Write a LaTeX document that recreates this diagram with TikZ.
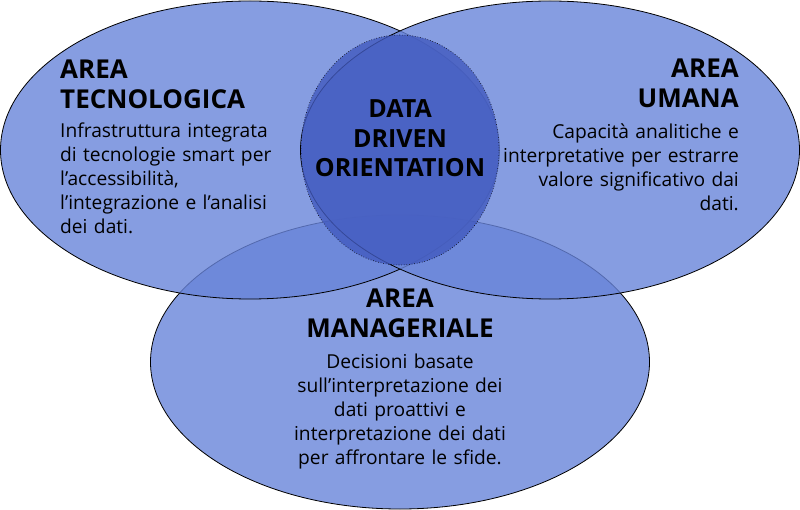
\documentclass[tikz,border=0pt]{standalone}
\usepackage{fontspec}
\setmainfont{Open Sans}
\definecolor{venn}{RGB}{104,132,217}
\definecolor{core}{RGB}{66,90,191}
\tikzset{
  area/.style={draw=black, line width=0.8pt, fill=venn, fill opacity=0.8},
  corebox/.style={draw=black, line width=0.6pt, dotted, fill=core, fill opacity=0.8},
  head/.style={inner sep=0pt, font=\fontsize{26}{29.5}\selectfont\bfseries, text width=300pt},
  body/.style={inner sep=0pt, font=\fontsize{19.2}{24}\selectfont, text width=300pt},
}
\begin{document}
\begin{tikzpicture}[x=1pt,y=-1pt]
\useasboundingbox (0,0) rectangle (800,510);
\begin{scope}
\clip (0,0) rectangle (800,510);
\draw[area] (400,362) ellipse [x radius=249.5, y radius=147];
\draw[area] (250,150) ellipse [x radius=249.5, y radius=149];
\draw[area] (550,150) ellipse [x radius=249.5, y radius=149];
\draw[corebox] (400,150) ellipse [x radius=99, y radius=115];
\end{scope}
% left
\node[head, anchor=base west, align=left] (lh) at (60,79) {AREA\\TECNOLOGICA};
\node[body, anchor=base west, align=left] (lb) at (60,138) {Infrastruttura integrata\\di tecnologie smart per\\l’accessibilità,\\l’integrazione e l’analisi\\dei dati.};
% right
\node[head, anchor=base east, align=right] (rh) at (739,78) {AREA\\UMANA};
\node[body, anchor=base east, align=right] (rb) at (739,139) {Capacità analitiche e\\interpretative per estrarre\\valore significativo dai\\dati.};
% bottom
\node[head, anchor=base, align=center] (bh) at (400,308) {AREA\\MANAGERIALE};
\node[body, anchor=base, align=center] (bb) at (400,368) {Decisioni basate\\sull’interpretazione dei\\dati proattivi e\\interpretazione dei dati\\per affrontare le sfide.};
% center
\node[head, font=\fontsize{25}{29.5}\selectfont\bfseries, anchor=base, align=center] (ch) at (400,118) {DATA\\DRIVEN\\ORIENTATION};
\end{tikzpicture}
\end{document}
